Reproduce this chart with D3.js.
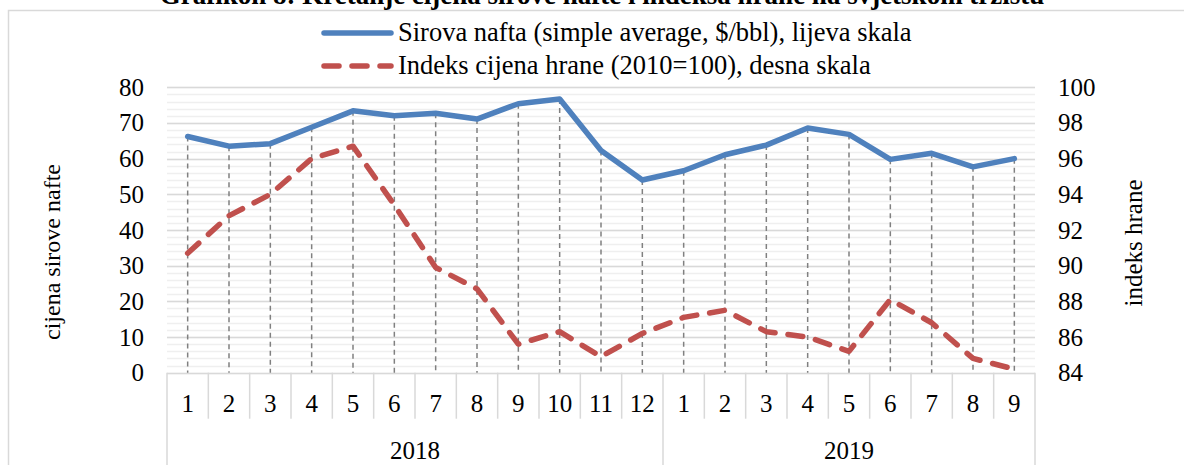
<!DOCTYPE html>
<meta charset='utf-8'>
<style>
	body {
		margin: 0;
		background: #fff;
	}

	text {
		font-family: 'Liberation Serif', 'Times New Roman', serif;
		fill: #000;
	}

	.axis path {
		display: none;
	}

	.axis line {
		stroke: none;
	}
</style>
<body>
<script src='https://cdn.jsdelivr.net/npm/d3@7'></script>

<script type='text/javascript'>
	var months = ['1', '2', '3', '4', '5', '6', '7', '8', '9', '10', '11', '12',
		'1', '2', '3', '4', '5', '6', '7', '8', '9'];
	var years = [{label: '2018', from: 0, to: 12}, {label: '2019', from: 12, to: 21}];
	var oilPrices = [66.2, 63.5, 64.2, 68.8, 73.4, 72.0, 72.7, 71.1, 75.4, 76.7, 62.3, 54.0,
		56.6, 61.1, 63.8, 68.6, 66.8, 59.8, 61.5, 57.7, 60.0];
	var foodIndex = [90.7, 92.8, 94.0, 96.0, 96.7, 93.4, 89.9, 88.7, 85.6, 86.3, 84.9, 86.2,
		87.1, 87.5, 86.3, 86.0, 85.2, 88.1, 86.8, 84.8, 84.2];
	var leftTicks = [0, 10, 20, 30, 40, 50, 60, 70, 80];
	var rightTicks = [84, 86, 88, 90, 92, 94, 96, 98, 100];
	var seriesNames = ['Sirova nafta (simple average, $/bbl), lijeva skala',
		'Indeks cijena hrane (2010=100), desna skala'];

	var svgW = 1184, svgH = 465;
	var plot = {left: 167, right: 1035, top: 87.3, bottom: 372.7};
	var blue = '#4f81bd', red = '#c0504d';

	var svg = d3.select('body').append('svg')
		.attr('width', svgW).attr('height', svgH);

	// chart area border
	svg.append('rect')
		.attr('x', 8.5).attr('y', 10.5).attr('width', 1300).attr('height', 600)
		.attr('fill', 'none').attr('stroke', '#d9d9d9').attr('stroke-width', 1.5);

	svg.append('text')
		.attr('x', 602).attr('y', 4)
		.attr('text-anchor', 'middle')
		.attr('font-size', 27).attr('font-weight', 'bold')
		.text('Grafikon 8: Kretanje cijena sirove nafte i indeksa hrane na svjetskom tržištu');

	var x = d3.scaleBand().domain(d3.range(months.length)).range([plot.left, plot.right]);
	var yLeft = d3.scaleLinear().domain([0, 80]).range([plot.bottom, plot.top]);
	var yRight = d3.scaleLinear().domain([84, 100]).range([plot.bottom, plot.top]);
	var cx = function (i) { return x(i) + x.bandwidth() / 2; };

	// minor + major gridlines
	var grid = svg.append('g');
	grid.selectAll('line.minor').data(d3.range(0, 81, 2)).enter().append('line')
		.attr('x1', plot.left).attr('x2', plot.right)
		.attr('y1', function (d) { return Math.round(yLeft(d)) + 0.5; })
		.attr('y2', function (d) { return Math.round(yLeft(d)) + 0.5; })
		.attr('stroke', '#efefef').attr('stroke-width', 1.5);
	grid.selectAll('line.major').data(leftTicks).enter().append('line')
		.attr('x1', plot.left).attr('x2', plot.right)
		.attr('y1', function (d) { return Math.round(yLeft(d)) + 0.5; })
		.attr('y2', function (d) { return Math.round(yLeft(d)) + 0.5; })
		.attr('stroke', '#d9d9d9').attr('stroke-width', 1.5);

	// category axis
	var cat = svg.append('g').attr('stroke', '#d9d9d9').attr('stroke-width', 1.5);
	cat.selectAll('line.sep').data(d3.range(months.length + 1)).enter().append('line')
		.attr('x1', function (i) { return i < months.length ? x(i) : plot.right; })
		.attr('x2', function (i) { return i < months.length ? x(i) : plot.right; })
		.attr('y1', plot.bottom)
		.attr('y2', function (i) { return (i === 0 || i === 12 || i === months.length) ? svgH : plot.bottom + 46; });

	svg.selectAll('text.month').data(months).enter().append('text')
		.attr('x', function (d, i) { return cx(i); }).attr('y', plot.bottom + 39)
		.attr('text-anchor', 'middle').attr('font-size', 25)
		.text(function (d) { return d; });

	svg.selectAll('text.year').data(years).enter().append('text')
		.attr('x', function (d) { return (x(d.from) + (d.to < months.length ? x(d.to) : plot.right)) / 2; })
		.attr('y', plot.bottom + 86)
		.attr('text-anchor', 'middle').attr('font-size', 25)
		.text(function (d) { return d.label; });

	// value axes
	svg.append('g').attr('class', 'axis')
		.attr('transform', 'translate(' + (plot.left - 10) + ',0)')
		.call(d3.axisLeft(yLeft).tickValues(leftTicks).tickSize(0).tickPadding(13))
		.attr('font-family', null).attr('font-size', 25);

	svg.append('g').attr('class', 'axis')
		.attr('transform', 'translate(' + (plot.right + 10) + ',0)')
		.call(d3.axisRight(yRight).tickValues(rightTicks).tickSize(0).tickPadding(13))
		.attr('font-family', null).attr('font-size', 25);

	d3.selectAll('.axis text').attr('fill', '#000');

	svg.append('text')
		.attr('transform', 'translate(52,252) rotate(-90)')
		.attr('text-anchor', 'middle').attr('dy', '0.35em').attr('font-size', 24)
		.text('cijena sirove nafte');

	svg.append('text')
		.attr('transform', 'translate(1133,243) rotate(-90)')
		.attr('text-anchor', 'middle').attr('dy', '0.35em').attr('font-size', 25)
		.text('indeks hrane');

	// drop lines
	svg.selectAll('line.drop').data(months).enter().append('line')
		.attr('x1', function (d, i) { return cx(i); }).attr('x2', function (d, i) { return cx(i); })
		.attr('y1', function (d, i) { return Math.min(yLeft(oilPrices[i]), yRight(foodIndex[i])); })
		.attr('y2', plot.bottom)
		.attr('stroke', '#808080').attr('stroke-width', 1.5).attr('stroke-dasharray', '5,4');

	var oilLine = d3.line().x(function (d, i) { return cx(i); }).y(function (d) { return yLeft(d); });
	var foodLine = d3.line().x(function (d, i) { return cx(i); }).y(function (d) { return yRight(d); });

	svg.append('path').datum(foodIndex).attr('d', foodLine)
		.attr('fill', 'none').attr('stroke', red).attr('stroke-width', 5.5)
		.attr('stroke-linecap', 'round').attr('stroke-linejoin', 'round')
		.attr('stroke-dasharray', '15,13');

	svg.append('path').datum(oilPrices).attr('d', oilLine)
		.attr('fill', 'none').attr('stroke', blue).attr('stroke-width', 5.5)
		.attr('stroke-linecap', 'round').attr('stroke-linejoin', 'round');

	// legend
	var legend = svg.append('g');
	var legendRows = [{name: seriesNames[0], color: blue, dash: null, y: 33},
		{name: seriesNames[1], color: red, dash: '15,13', y: 66}];
	legend.selectAll('line').data(legendRows).enter().append('line')
		.attr('x1', 324).attr('x2', 391)
		.attr('y1', function (d) { return d.y; }).attr('y2', function (d) { return d.y; })
		.attr('stroke', function (d) { return d.color; }).attr('stroke-width', 5.5)
		.attr('stroke-linecap', 'round')
		.attr('stroke-dasharray', function (d) { return d.dash; });
	legend.selectAll('text').data(legendRows).enter().append('text')
		.attr('x', 398).attr('y', function (d) { return d.y + 8; })
		.attr('font-size', 26.5)
		.text(function (d) { return d.name; });
</script>
